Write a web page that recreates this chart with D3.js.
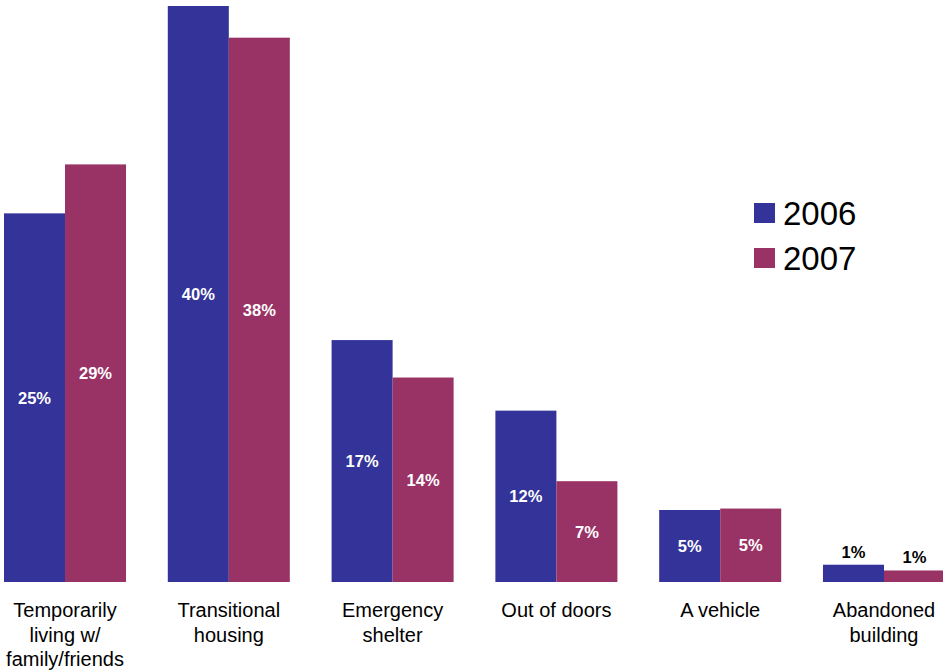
<!DOCTYPE html>
<html><head><meta charset="utf-8">
<script src="https://cdn.jsdelivr.net/npm/d3@7"></script>
<style>body{margin:0;background:#fff}svg{display:block;font-family:"Liberation Sans",Arial,sans-serif}</style>
</head><body><svg id="c" width="943" height="671"></svg>
<script>
const categories = ["Temporarily\nliving w/\nfamily/friends","Transitional\nhousing","Emergency\nshelter","Out of doors","A vehicle","Abandoned\nbuilding"];
const seriesNames = ["2006","2007"];
const values2006 = [25.6, 40.0, 16.8, 11.9, 5.0, 1.2];
const values2007 = [29.0, 37.8, 14.2, 7.0, 5.1, 0.8];
const labels2006 = ["25%","40%","17%","12%","5%","1%"];
const labels2007 = ["29%","38%","14%","7%","5%","1%"];
const colors = ["#333399","#993366"];

const svg = d3.select("#c");
const x = d3.scaleBand().domain(categories).range([4,945]).paddingInner(0.255).paddingOuter(0);
const xs = d3.scaleBand().domain(seriesNames).range([0,x.bandwidth()]);
const y = d3.scaleLinear().domain([0,40]).range([582,6]);

const series = [values2006, values2007];
const labels = [labels2006, labels2007];
const data = [];
categories.forEach((c,i)=>seriesNames.forEach((s,j)=>data.push({c, s, v:series[j][i], l:labels[j][i], col:colors[j]})));

svg.selectAll("rect.bar").data(data).join("rect").attr("class","bar")
  .attr("x",d=>x(d.c)+xs(d.s)).attr("width",xs.bandwidth())
  .attr("y",d=>y(d.v)).attr("height",d=>y(0)-y(d.v)).attr("fill",d=>d.col);

svg.selectAll("text.val").data(data).join("text").attr("class","val")
  .attr("x",d=>x(d.c)+xs(d.s)+xs.bandwidth()/2)
  .attr("y",d=>{const h=y(0)-y(d.v); return h<30 ? y(d.v)-7 : (y(d.v)+y(0))/2+6;})
  .attr("text-anchor","middle").attr("font-weight","bold").attr("font-size",16.5)
  .attr("fill",d=>(y(0)-y(d.v))<30?"#000":"#fff").text(d=>d.l);

const xl = svg.append("g");
categories.forEach(c=>{
  const t = xl.append("text").attr("text-anchor","middle").attr("font-size",20).attr("fill","#000");
  c.split("\n").forEach((line,k)=>t.append("tspan").attr("x",x(c)+x.bandwidth()/2).attr("y",617+k*24.5).text(line));
});

const lg = svg.append("g");
seriesNames.forEach((s,j)=>{
  lg.append("rect").attr("x",754).attr("y",203+j*45).attr("width",21).attr("height",20).attr("fill",colors[j]);
  lg.append("text").attr("x",783).attr("y",225+j*45).attr("font-size",33).attr("fill","#000").text(s);
});
</script></body></html>
